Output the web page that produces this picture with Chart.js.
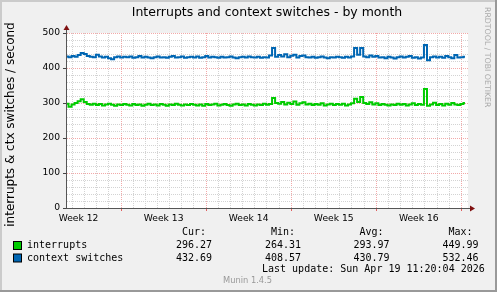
<!DOCTYPE html>
<html>
<head>
<meta charset="utf-8">
<script src="https://cdn.jsdelivr.net/npm/chart.js@4.4.1/dist/chart.umd.min.js"></script>
<style>
  html, body { margin: 0; padding: 0; background: #f0f0f0; }
  #wrap { width: 497px; height: 292px; }
</style>
</head>
<body>
<div id="wrap"><canvas id="munin" width="497" height="292"></canvas></div>
<script>
// time axis is in days, 0 = start of week 13
const firstDay = -4.45;
const stepDays = 0.25;
const weekLabels = ["Week 12", "Week 13", "Week 14", "Week 15", "Week 16"];
const weekMid = [-3.5, 3.5, 10.5, 17.5, 24.5];

const interrupts = [
  298, 289, 296, 300, 305, 311, 303, 297, 295, 298,
  294, 297, 293, 296, 298, 295, 292, 296, 294, 297,
  295, 293, 297, 294, 296, 292, 295, 298, 294, 296,
  293, 297, 295, 292, 296, 294, 298, 295, 293, 296,
  294, 297, 295, 293, 296, 292, 297, 294, 296, 298,
  293, 295, 297, 294, 292, 296, 298, 294, 296, 293,
  297, 295, 293, 296, 294, 298, 295, 297, 314, 300,
  298, 303, 296, 301, 297, 304, 295, 299, 302, 296,
  298, 294, 297, 295, 299, 293, 296, 298, 294, 297,
  295, 298, 293, 296, 299, 312, 303, 317, 300, 297,
  302, 296, 299, 294, 297, 295, 293, 296, 294, 298,
  295, 297, 293, 296, 299, 294, 297, 295, 340, 292,
  296, 301, 294, 297, 293, 298, 295, 300, 296, 294,
  297, 300
];

const ctxSwitches = [
  433, 431, 434, 432, 437, 443, 440, 434, 432, 431,
  438, 433, 430, 432, 428, 425, 431, 433, 430, 432,
  431, 433, 429, 431, 434, 430, 432, 430, 428, 431,
  433, 430, 431, 429, 432, 434, 430, 431, 433, 429,
  431, 432, 430, 433, 429, 431, 434, 430, 432, 431,
  429, 432, 430, 431, 433, 430, 428, 431, 432, 430,
  433, 431, 430, 432, 429, 431, 430, 436, 457, 432,
  437, 433, 439, 431, 435, 438, 430, 434, 436, 431,
  430, 432, 429, 431, 433, 430, 428, 431, 430, 432,
  431, 429, 432, 430, 433, 457, 438, 457, 433, 431,
  436, 432, 434, 430, 431, 428, 432, 430, 427, 431,
  433, 430, 432, 434, 429, 431, 427, 430, 466, 422,
  431, 433, 430, 432, 429, 434, 431, 428, 437, 430,
  431, 432
];

const seriesNames = ["interrupts", "context switches"];
const seriesColors = ["#00CC00", "#0066B3"];
const curVals = ["296.27", "432.69"];
const minVals = ["264.31", "408.57"];
const avgVals = ["293.97", "430.79"];
const maxVals = ["449.99", "532.46"];
const lastUpdate = "Last update: Sun Apr 19 11:20:04 2026";

const majorGrid = "#F2A9A9";
const minorGrid = "#D3D3D3";
const mono = '10px "DejaVu Sans Mono"';

function toPoints(arr) {
  return arr.map((v, i) => ({ x: firstDay + i * stepDays, y: v }));
}

function isWeekMid(v) {
  return weekMid.some((m) => Math.abs(m - v) < 1e-6);
}

const decor = {
  id: "decor",
  beforeDraw(chart) {
    const { ctx, chartArea: ca, width, height } = chart;
    ctx.save();
    ctx.fillStyle = "#F0F0F0";
    ctx.fillRect(0, 0, width, height);
    ctx.fillStyle = "#FFFFFF";
    ctx.fillRect(ca.left, ca.top, ca.right - ca.left, ca.bottom - ca.top);
    // frame
    ctx.fillStyle = "#CBCBCB";
    ctx.fillRect(0, 0, width, 2);
    ctx.fillRect(0, 0, 2, height);
    ctx.fillStyle = "#999999";
    ctx.fillRect(0, height - 2, width, 2);
    ctx.fillRect(width - 2, 0, 2, height);
    ctx.restore();
  },
  afterDraw(chart) {
    const { ctx, chartArea: ca } = chart;
    ctx.save();
    // axes
    ctx.strokeStyle = "#555555";
    ctx.lineWidth = 1;
    ctx.beginPath();
    ctx.moveTo(ca.left - 0.5, ca.bottom + 0.5);
    ctx.lineTo(ca.right + 2, ca.bottom + 0.5);
    ctx.moveTo(ca.left - 0.5, ca.bottom + 0.5);
    ctx.lineTo(ca.left - 0.5, ca.top - 3);
    ctx.stroke();
    ctx.fillStyle = "#7F1010";
    ctx.beginPath();
    ctx.moveTo(ca.right + 2, ca.bottom - 2.5);
    ctx.lineTo(ca.right + 7, ca.bottom + 0.5);
    ctx.lineTo(ca.right + 2, ca.bottom + 3.5);
    ctx.fill();
    ctx.beginPath();
    ctx.moveTo(ca.left - 3.5, ca.top - 3);
    ctx.lineTo(ca.left - 0.5, ca.top - 8);
    ctx.lineTo(ca.left + 2.5, ca.top - 3);
    ctx.fill();

    // titles
    ctx.fillStyle = "#000000";
    ctx.textBaseline = "middle";
    ctx.textAlign = "center";
    ctx.font = '12.5px "DejaVu Sans"';
    ctx.fillText("Interrupts and context switches - by month", 267, 13);
    ctx.save();
    ctx.translate(11, 124.5);
    ctx.rotate(-Math.PI / 2);
    ctx.font = '12px "DejaVu Sans"';
    ctx.fillText("interrupts & ctx switches / second", 0, 0);
    ctx.restore();
    ctx.save();
    ctx.translate(487, 7);
    ctx.rotate(Math.PI / 2);
    ctx.textAlign = "left";
    ctx.fillStyle = "#AAAAAA";
    ctx.font = '7.8px "DejaVu Sans"';
    ctx.fillText("RRDTOOL / TOBI OETIKER", 0, 0);
    ctx.restore();

    // legend
    const cols = [176, 265, 353.5, 442.5];
    ctx.font = mono;
    ctx.textAlign = "left";
    ["Cur:", "Min:", "Avg:", "Max:"].forEach((h, k) => ctx.fillText(h, cols[k] + 6, 232));
    const rowsY = [245.5, 258];
    seriesNames.forEach((name, r) => {
      const y = rowsY[r];
      ctx.fillStyle = seriesColors[r];
      ctx.fillRect(13.5, y - 4, 8, 8);
      ctx.strokeStyle = "#000000";
      ctx.strokeRect(13.5, y - 4, 8, 8);
      ctx.fillStyle = "#000000";
      ctx.fillText(name, 27, y);
      [curVals, minVals, avgVals, maxVals].forEach((vals, k) => ctx.fillText(vals[r], cols[k], y));
    });
    ctx.fillText(lastUpdate, 262, 269);
    ctx.textAlign = "center";
    ctx.fillStyle = "#999999";
    ctx.font = '8.3px "DejaVu Sans"';
    ctx.fillText("Munin 1.4.5", 247.5, 281);
    ctx.restore();
  },
};

new Chart(document.getElementById("munin"), {
  type: "line",
  data: {
    datasets: [
      {
        label: seriesNames[0],
        data: toPoints(interrupts),
        borderColor: seriesColors[0],
        borderWidth: 2,
        pointRadius: 0,
        stepped: "middle",
        fill: false,
      },
      {
        label: seriesNames[1],
        data: toPoints(ctxSwitches),
        borderColor: seriesColors[1],
        borderWidth: 2,
        pointRadius: 0,
        stepped: "middle",
        fill: false,
      },
    ],
  },
  options: {
    responsive: false,
    animation: false,
    events: [],
    layout: { padding: { left: 0, right: 29, top: 33, bottom: 64 } },
    plugins: { legend: { display: false }, tooltip: { enabled: false } },
    scales: {
      x: {
        type: "linear",
        min: -4.45,
        max: 28.55,
        afterBuildTicks: (s) => {
          const t = [];
          for (let d = -4; d <= 28; d++) t.push({ value: d });
          weekMid.forEach((m) => t.push({ value: m }));
          t.sort((a, b) => a.value - b.value);
          s.ticks = t;
        },
        afterFit: (s) => { s.height = 20; },
        border: { display: false, dash: [1, 1] },
        grid: {
          lineWidth: 1,
          color: (c) => {
            const v = c.tick ? c.tick.value : 0;
            if (isWeekMid(v)) return "rgba(0,0,0,0)";
            return v % 7 === 0 ? majorGrid : minorGrid;
          },
          drawTicks: true,
          tickLength: 3,
          tickColor: (c) => {
            const v = c.tick ? c.tick.value : 0;
            return !isWeekMid(v) && v % 7 === 0 ? "#E06060" : "rgba(0,0,0,0)";
          },
        },
        ticks: {
          autoSkip: false,
          maxRotation: 0,
          padding: 2,
          color: "#000000",
          font: { family: "DejaVu Sans", size: 9.2 },
          callback: (v) => {
            const k = weekMid.findIndex((m) => Math.abs(m - v) < 1e-6);
            return k >= 0 ? weekLabels[k] : "";
          },
        },
      },
      y: {
        min: 0,
        max: 500,
        afterBuildTicks: (s) => {
          const t = [];
          for (let v = 0; v <= 500; v += 20) t.push({ value: v });
          s.ticks = t;
        },
        afterFit: (s) => { s.width = 67; },
        border: { display: false, dash: [1, 1] },
        grid: {
          lineWidth: 1,
          color: (c) => (c.tick && c.tick.value % 100 === 0 ? majorGrid : minorGrid),
          drawTicks: true,
          tickLength: 4,
          tickColor: (c) => (c.tick && c.tick.value % 100 === 0 ? "#444444" : "rgba(0,0,0,0)"),
        },
        ticks: {
          autoSkip: false,
          padding: 3,
          color: "#000000",
          font: { family: "DejaVu Sans", size: 9.2 },
          callback: (v) => (v % 100 === 0 ? String(v) : ""),
        },
      },
    },
  },
  plugins: [decor],
});
</script>
</body>
</html>
